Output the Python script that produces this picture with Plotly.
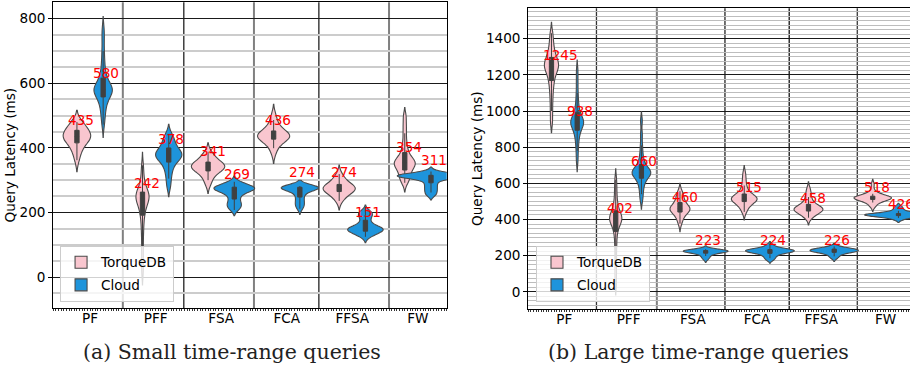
import numpy as np
import plotly.graph_objects as go

categories = ["PF", "PFF", "FSA", "FCA", "FFSA", "FW"]
series_names = ["TorqueDB", "Cloud"]

# Query latency samples (ms)
small_torquedb = [
    [362, 380, 393, 403, 411, 417, 422, 427, 431, 433, 435, 437, 440, 444, 448, 453, 458, 464, 470, 476, 480],
    [16, 55, 95, 130, 158, 180, 196, 208, 218, 226, 233, 238, 242, 245, 248, 251, 254, 258, 262, 267, 274, 284, 298, 320, 346],
    [287, 300, 311, 319, 325, 330, 334, 337, 339, 340, 341, 343, 345, 348, 351, 355, 359, 364, 370, 378, 388],
    [384, 399, 410, 418, 424, 428, 431, 433, 434, 435, 436, 438, 440, 443, 447, 451, 456, 463, 472, 486, 503],
    [236, 244, 251, 257, 262, 266, 269, 271, 272, 273, 274, 275, 277, 279, 282, 286, 290, 295, 301, 309, 319],
    [292, 300, 308, 316, 323, 330, 336, 341, 345, 349, 352, 354, 357, 360, 364, 370, 378, 388, 402, 420, 445, 470, 497],
]
small_cloud = [
    [472, 495, 512, 526, 538, 548, 556, 562, 567, 571, 575, 578, 579, 580, 582, 585, 589, 594, 600, 608, 618, 632, 650, 672, 700, 735, 766],
    [281, 305, 324, 338, 350, 358, 364, 369, 373, 376, 378, 380, 383, 387, 392, 398, 405, 413, 422, 432, 441],
    [208, 216, 222, 228, 235, 244, 252, 259, 264, 267, 269, 271, 273, 275, 276, 278, 280, 282, 285, 289, 295],
    [212, 220, 227, 234, 242, 250, 258, 264, 268, 271, 274, 275, 276, 277, 278, 278, 279, 280, 280, 281, 282],
    [125, 131, 135, 138, 141, 143, 145, 147, 149, 150, 151, 153, 156, 160, 166, 174, 183, 190, 195, 199, 205],
    [253, 262, 270, 278, 286, 294, 301, 306, 309, 310, 311, 312, 313, 313, 314, 315, 316, 317, 319, 322, 327],
]
large_torquedb = [
    [940, 1000, 1055, 1100, 1135, 1163, 1185, 1203, 1218, 1230, 1238, 1245, 1252, 1260, 1268, 1277, 1287, 1300, 1316, 1336, 1360, 1392, 1430],
    [43, 110, 180, 240, 290, 328, 352, 370, 383, 392, 398, 402, 406, 411, 418, 427, 438, 452, 470, 495, 530, 572, 620],
    [377, 398, 414, 426, 436, 443, 449, 453, 456, 458, 460, 463, 467, 473, 481, 491, 502, 514, 527, 541, 556],
    [442, 460, 474, 485, 494, 501, 506, 510, 512, 514, 515, 517, 520, 524, 530, 538, 550, 566, 588, 618, 654],
    [410, 420, 429, 437, 443, 448, 451, 454, 456, 457, 458, 460, 463, 467, 473, 481, 492, 506, 524, 545, 569],
    [472, 484, 494, 502, 508, 512, 514, 515, 516, 517, 518, 520, 522, 524, 526, 528, 531, 535, 542, 558, 594],
]
large_cloud = [
    [725, 780, 820, 850, 872, 890, 905, 916, 925, 931, 935, 938, 942, 948, 956, 966, 980, 998, 1022, 1055, 1100, 1160, 1222],
    [507, 540, 568, 590, 607, 620, 631, 640, 647, 652, 656, 658, 660, 663, 667, 672, 679, 688, 700, 716, 738, 768, 810, 870, 946],
    [180, 190, 198, 205, 211, 215, 218, 220, 221, 222, 223, 224, 225, 226, 227, 228, 229, 230, 231, 233, 236],
    [176, 186, 195, 203, 209, 214, 217, 219, 221, 223, 224, 226, 228, 230, 232, 233, 235, 237, 241, 248, 260],
    [186, 196, 204, 211, 216, 219, 221, 223, 224, 225, 226, 228, 230, 232, 234, 236, 237, 238, 240, 244, 251],
    [401, 408, 413, 417, 420, 422, 423, 424, 425, 425, 426, 427, 428, 429, 430, 432, 435, 440, 448, 459, 472],
]

# ---- styling (not data) ----
FONT = "DejaVu Sans"
FS = 13.6
fill_colors = ["#f9c6cf", "#1e94db"]
offsets = [-0.2, 0.2]
label_dx = [-0.36, 0.01]
small_widths = [[0.42, 0.20, 0.51, 0.49, 0.49, 0.32], [0.28, 0.40, 0.62, 0.57, 0.54, 1.03]]
large_widths = [[0.22, 0.19, 0.31, 0.40, 0.45, 0.58], [0.20, 0.29, 0.70, 0.76, 0.75, 1.05]]
small_bw = [[18, 20, 14, 16, 14, 14], [20, 16, 9, 9, 9, 7]]
large_bw = [[30, 30, 22, 22, 20, 14], [30, 25, 9, 9, 9, 9]]

fig = go.Figure()
annotations = []

panels = [
    (small_torquedb, small_cloud, small_widths, small_bw, "x", "y", "legend", 50),
    (large_torquedb, large_cloud, large_widths, large_bw, "x2", "y2", "legend2", 62),
]

for (tdb, cld, widths, bws, xa, ya, leg, dy) in panels:
    for s, data in enumerate([tdb, cld]):
        for i, samples in enumerate(data):
            w = widths[s][i]
            fig.add_trace(go.Violin(
                y=samples, x0=i + offsets[s], width=w,
                name=series_names[s], legendgroup=series_names[s] + leg,
                showlegend=(i == 0), legend=leg,
                fillcolor=fill_colors[s], opacity=1,
                line=dict(color="#4a4a4a", width=1.1),
                bandwidth=bws[s][i], spanmode="soft", points=False,
                box=dict(visible=True, width=min(0.9, 0.066 / w),
                         fillcolor="#404040", line=dict(color="#404040", width=1)),
                meanline=dict(visible=False),
                xaxis=xa, yaxis=ya, hoverinfo="skip",
            ))
            med = int(round(float(np.median(samples))))
            annotations.append(dict(
                x=i + label_dx[s], y=med + dy, xref=xa, yref=ya,
                text=str(med), showarrow=False, xanchor="left", yanchor="middle",
                font=dict(family=FONT, size=FS, color="red"),
            ))

for xc, txt in [(0.2544, "(a) Small time-range queries"), (0.768, "(b) Large time-range queries")]:
    annotations.append(dict(x=xc, y=0.047, xref="paper", yref="paper",
                            text=txt, showarrow=False,
                            font=dict(family="DejaVu Serif", size=20.5, color="#222"),
                            xanchor="center", yanchor="middle"))

shapes = []
vlines = [(0.50, "#808080", 2), (1.43, "#222222", 1.3), (2.50, "#808080", 2),
          (3.49, "#222222", 1.3), (4.56, "#808080", 2)]
vlines2 = [(0.50, "#333333", 1.3), (1.44, "#808080", 2), (2.50, "#333333", 1.4),
           (3.50, "#111111", 1.3), (4.56, "#444444", 1.4)]
for xv, c, lw in vlines:
    shapes.append(dict(type="line", xref="x", yref="y domain", x0=xv, x1=xv, y0=0, y1=1,
                       line=dict(color=c, width=lw), layer="below"))
for xv, c, lw in vlines2:
    shapes.append(dict(type="line", xref="x2", yref="y2 domain", x0=xv, x1=xv, y0=0, y1=1,
                       line=dict(color=c, width=lw), layer="below"))

xcommon = dict(type="linear", tickvals=list(range(len(categories))), ticktext=categories,
               showgrid=False, zeroline=False, showline=True, linecolor="black", linewidth=1.2,
               ticks="", tickfont=dict(family=FONT, size=FS, color="black"), ticklabelstandoff=-2,
               minor=dict(ticks="outside", ticklen=2, dtick=0.04, tick0=0, tickcolor="#333", tickwidth=1),
               fixedrange=True)
ycommon = dict(type="linear", dtick=200, tick0=0, showgrid=True, gridcolor="#1a1a1a", gridwidth=1,
               zeroline=False, showline=True, linecolor="black", linewidth=1.2,
               ticks="outside", ticklen=4, tickcolor="black",
               tickfont=dict(family=FONT, size=FS, color="black"),
               title=dict(text="Query Latency (ms)", font=dict(family=FONT, size=FS, color="black"), standoff=0))

fig.update_layout(
    width=910, height=369, margin=dict(l=0, r=0, t=0, b=0),
    paper_bgcolor="white", plot_bgcolor="white",
    violinmode="overlay", violingap=0, violingroupgap=0,
    xaxis=dict(xcommon, domain=[0.0586, 0.4909], range=[-0.56, 5.44], anchor="y", mirror=True),
    yaxis=dict(ycommon, domain=[0.1653, 0.9938], range=[-95, 850], anchor="x", mirror=True,
               minor=dict(dtick=50, showgrid=True, gridcolor="#cccccc", gridwidth=1.6)),
    xaxis2=dict(xcommon, domain=[0.5806, 1.0], range=[-0.56, 5.38], anchor="y2", mirror=True),
    yaxis2=dict(ycommon, domain=[0.1626, 0.9775], range=[-95, 1568], anchor="x2",
                minor=dict(dtick=25, showgrid=True, gridcolor="#bdbdbd", gridwidth=1)),
    legend=dict(x=0.066, y=0.182, xanchor="left", yanchor="bottom",
                bgcolor="rgba(255,255,255,0.8)", bordercolor="#cccccc", borderwidth=1,
                font=dict(family=FONT, size=FS, color="black"), tracegroupgap=2),
    legend2=dict(x=0.589, y=0.182, xanchor="left", yanchor="bottom",
                 bgcolor="rgba(255,255,255,0.8)", bordercolor="#cccccc", borderwidth=1,
                 font=dict(family=FONT, size=FS, color="black"), tracegroupgap=2),
    annotations=annotations, shapes=shapes,
)

fig.write_html("out.html", config={"displayModeBar": False},
               post_script="document.body.style.margin='0';document.body.style.overflow='hidden';")
